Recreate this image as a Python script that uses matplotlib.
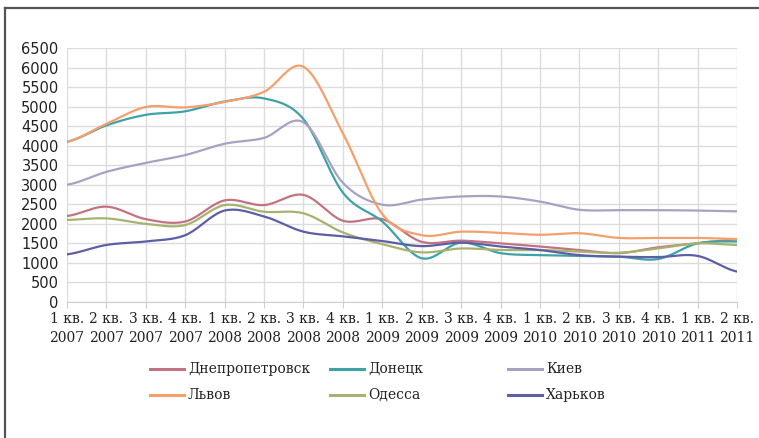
import numpy as np
import matplotlib
matplotlib.use("Agg")
import matplotlib.pyplot as plt
from matplotlib.lines import Line2D

quarters = ["1 кв.\n2007", "2 кв.\n2007", "3 кв.\n2007", "4 кв.\n2007",
            "1 кв.\n2008", "2 кв.\n2008", "3 кв.\n2008", "4 кв.\n2008",
            "1 кв.\n2009", "2 кв.\n2009", "3 кв.\n2009", "4 кв.\n2009",
            "1 кв.\n2010", "2 кв.\n2010", "3 кв.\n2010", "4 кв.\n2010",
            "1 кв.\n2011", "2 кв.\n2011"]

dnepropetrovsk = [2200, 2440, 2120, 2060, 2600, 2480, 2740, 2080, 2120,
                  1540, 1570, 1500, 1420, 1330, 1250, 1400, 1500, 1600]
donetsk = [4100, 4520, 4790, 4880, 5130, 5210, 4680, 2800, 2060,
           1120, 1520, 1250, 1200, 1180, 1160, 1100, 1500, 1550]
kiev = [3000, 3330, 3560, 3760, 4050, 4200, 4600, 3050, 2490,
        2620, 2700, 2700, 2570, 2360, 2350, 2350, 2340, 2320]
lviv = [4100, 4560, 4990, 4980, 5120, 5380, 6020, 4320, 2250,
        1710, 1800, 1770, 1720, 1760, 1640, 1640, 1640, 1610]
odessa = [2100, 2140, 2000, 1970, 2480, 2310, 2270, 1780, 1480,
          1270, 1370, 1330, 1330, 1290, 1260, 1370, 1500, 1460]
kharkov = [1220, 1460, 1550, 1710, 2340, 2190, 1800, 1680, 1560,
           1430, 1520, 1420, 1330, 1200, 1160, 1150, 1180, 780]

series = [
    ("Днепропетровск", dnepropetrovsk, "#c27382"),
    ("Донецк", donetsk, "#3fa2a6"),
    ("Киев", kiev, "#a6a2c2"),
    ("Львов", lviv, "#f3a06c"),
    ("Одесса", odessa, "#a8b26e"),
    ("Харьков", kharkov, "#5d5ea6"),
]
yticks = list(range(0, 6501, 500))


def smooth(y, steps=20):
    """Catmull-Rom curve through the points (uniform x)."""
    y = np.asarray(y, dtype=float)
    x = np.arange(len(y), dtype=float)
    xs, ys = [], []
    n = len(y)
    for i in range(n - 1):
        p0 = y[i - 1] if i > 0 else y[i]
        p3 = y[i + 2] if i + 2 < n else y[i + 1]
        p1, p2 = y[i], y[i + 1]
        c1 = p1 + (p2 - p0) / 6.0
        c2 = p2 - (p3 - p1) / 6.0
        t = np.linspace(0, 1, steps, endpoint=(i == n - 2))
        b = ((1 - t) ** 3) * p1 + 3 * ((1 - t) ** 2) * t * c1 \
            + 3 * (1 - t) * t ** 2 * c2 + t ** 3 * p2
        xs.append(x[i] + t)
        ys.append(b)
    return np.concatenate(xs), np.concatenate(ys)


fig = plt.figure(figsize=(7.59, 4.38), dpi=100)
fig.patch.set_facecolor("white")

ax = fig.add_axes([67 / 759, 1 - 302 / 438, 670 / 759, 254 / 438])
ax.set_xlim(0, len(quarters) - 1)
ax.set_ylim(0, 6500)

for label, vals, color in series:
    xs, ys = smooth(vals)
    ax.plot(xs, ys, color=color, lw=1.6, solid_capstyle="round", zorder=3)

ax.set_yticks(yticks)
ax.set_yticklabels([str(v) for v in yticks], fontsize=10.5,
                   family="DejaVu Sans", color="#222222")
ax.set_xticks(range(len(quarters)))
ax.set_xticklabels(quarters, fontsize=10, family="DejaVu Serif",
                   color="#222222", linespacing=1.45)
ax.tick_params(axis="y", length=0, pad=6)
ax.tick_params(axis="x", length=4, color="#d0d0d0", pad=3)
ax.grid(True, color="#dcdcdc", lw=1.0, zorder=0)
for s in ["top", "right", "left"]:
    ax.spines[s].set_visible(False)
ax.spines["bottom"].set_color("#cfcfcf")

# legend, three columns by two rows
col_x = [150, 330, 508]
row_y = [369, 395]
for k, (label, vals, color) in enumerate(series):
    cx = col_x[k % 3]
    ry = row_y[k // 3]
    fx0, fx1 = cx / 759, (cx + 34) / 759
    fy = 1 - ry / 438
    fig.add_artist(Line2D([fx0, fx1], [fy, fy], color=color, lw=2.2,
                          transform=fig.transFigure))
    fig.text((cx + 38) / 759, fy, label, fontsize=10,
             family="DejaVu Serif", color="#222222", va="center")

# outer frame (top and left edges)
fig.add_artist(Line2D([5 / 759, 1], [1 - 8 / 438, 1 - 8 / 438],
                      color="#555555", lw=1.6, transform=fig.transFigure))
fig.add_artist(Line2D([5 / 759, 5 / 759], [0, 1 - 8 / 438],
                      color="#555555", lw=1.6, transform=fig.transFigure))

fig.savefig("out.png", dpi=100)
